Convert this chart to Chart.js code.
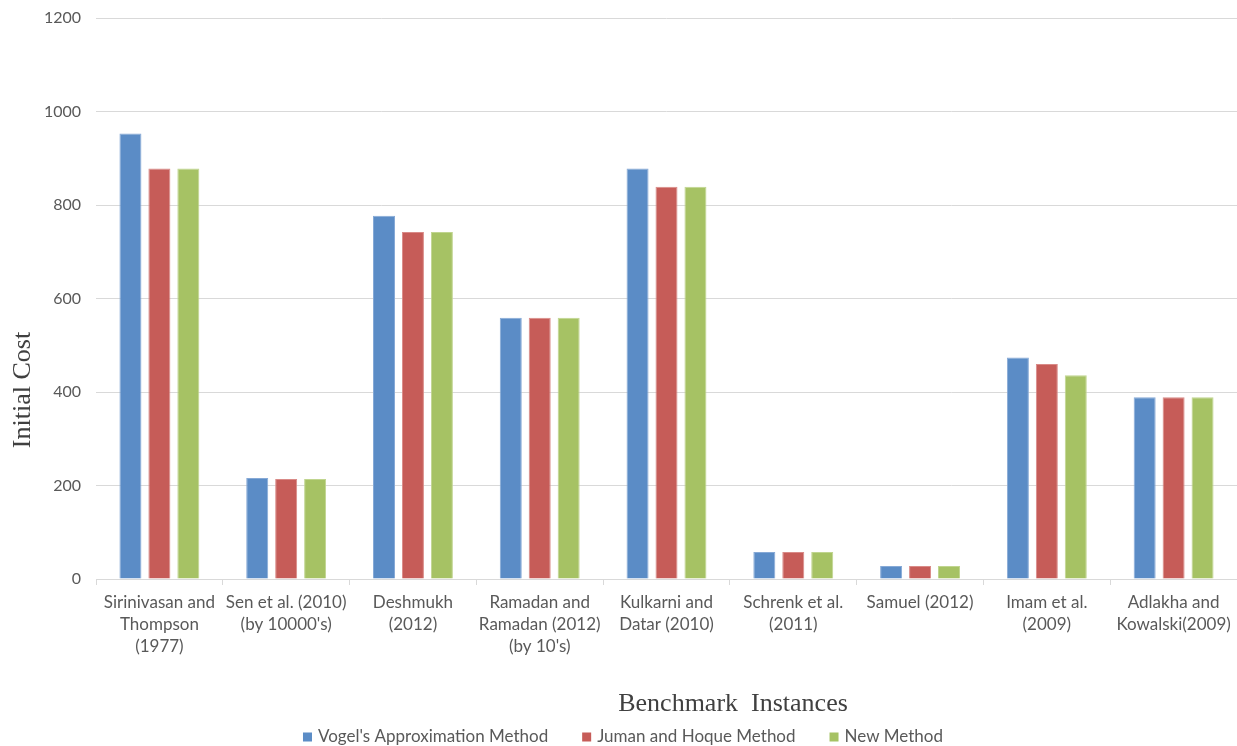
<!DOCTYPE html>
<html>
<head>
<meta charset="utf-8">
<title>Initial Cost</title>
<script src="https://cdn.jsdelivr.net/npm/chart.js@4.4.1/dist/chart.umd.min.js"></script>
<style>
  html, body { margin: 0; padding: 0; background: #ffffff; }
  #wrap { width: 1237px; height: 746px; }
</style>
</head>
<body>
<div id="wrap"><canvas id="chartCusto" width="1237" height="746"></canvas></div>
<script>
// Instâncias de teste (rótulos em várias linhas)
const categorias = [
    ['Sirinivasan and', 'Thompson', '(1977)'],
    ['Sen et al. (2010)', "(by 10000's)"],
    ['Deshmukh', '(2012)'],
    ['Ramadan and', 'Ramadan (2012)', "(by 10's)"],
    ['Kulkarni and', 'Datar (2010)'],
    ['Schrenk et al.', '(2011)'],
    ['Samuel (2012)'],
    ['Imam et al.', '(2009)'],
    ['Adlakha and', 'Kowalski(2009)']
];

const custoVogel = [953, 216, 777, 559, 878, 58, 28, 474, 389];
const custoJuman = [878, 214, 742, 559, 839, 58, 28, 460, 389];
const custoNovo  = [878, 214, 742, 559, 839, 58, 28, 436, 389];

const nomesSeries = ["Vogel's Approximation Method", 'Juman and Hoque Method', 'New Method'];
const ticksY = [0, 200, 400, 600, 800, 1000, 1200];

const fonteTexto = 'Lato, "Open Sans", sans-serif';
const fonteTitulo = '"Liberation Serif", "Times New Roman", serif';
const corTexto = '#595959';
const corGrade = '#d9d9d9';

// Títulos dos eixos e legenda desenhados à mão
const titulosELegenda = {
    id: 'titulosELegenda',
    afterDraw(chart) {
        const ctx = chart.ctx;
        ctx.save();
        ctx.fillStyle = '#404040';
        ctx.font = '26px ' + fonteTitulo;
        ctx.textAlign = 'center';
        ctx.textBaseline = 'middle';
        ctx.fillText('Benchmark  Instances', 733, 704);

        ctx.save();
        ctx.translate(23, 390);
        ctx.rotate(-Math.PI / 2);
        ctx.fillText('Initial Cost', 0, 0);
        ctx.restore();

        // legenda
        ctx.font = '17px ' + fonteTexto;
        ctx.textAlign = 'left';
        const caixa = 9, espacoTexto = 6, espacoItens = 34;
        const itens = chart.data.datasets.map(ds => ({
            label: ds.label,
            cor: ds.backgroundColor,
            largura: caixa + espacoTexto + ctx.measureText(ds.label).width
        }));
        const total = itens.reduce((s, it) => s + it.largura, 0) + espacoItens * (itens.length - 1);
        let x = 623 - total / 2;
        const y = 737;
        itens.forEach(it => {
            ctx.fillStyle = it.cor;
            ctx.fillRect(x, y - caixa / 2, caixa, caixa);
            ctx.fillStyle = corTexto;
            ctx.fillText(it.label, x + caixa + espacoTexto, y);
            x += it.largura + espacoItens;
        });
        ctx.restore();
    }
};

window.addEventListener('DOMContentLoaded', function() {
    const ctx = document.getElementById('chartCusto').getContext('2d');
    new Chart(ctx, {
        type: 'bar',
        data: {
            labels: categorias,
            datasets: [
                {
                    label: nomesSeries[0],
                    data: custoVogel,
                    backgroundColor: '#5b8cc6',
                    borderColor: '#86a9d6',
                    borderWidth: 1
                },
                {
                    label: nomesSeries[1],
                    data: custoJuman,
                    backgroundColor: '#c65c58',
                    borderColor: '#d98a87',
                    borderWidth: 1
                },
                {
                    label: nomesSeries[2],
                    data: custoNovo,
                    backgroundColor: '#a6c264',
                    borderColor: '#c0d58f',
                    borderWidth: 1
                }
            ]
        },
        options: {
            responsive: false,
            animation: false,
            categoryPercentage: 0.685,
            barPercentage: 0.76,
            layout: { padding: { top: 18, right: 0, bottom: 0, left: 0 } },
            plugins: {
                legend: { display: false },
                tooltip: { enabled: false }
            },
            scales: {
                x: {
                    afterFit: function(scale) { scale.height = 167; },
                    grid: {
                        offset: true,
                        drawOnChartArea: false,
                        drawTicks: true,
                        tickLength: 6,
                        color: corGrade
                    },
                    border: { display: true, color: corGrade },
                    ticks: {
                        autoSkip: false,
                        maxRotation: 0,
                        minRotation: 0,
                        padding: 6,
                        color: corTexto,
                        font: { family: fonteTexto, size: 17, lineHeight: 1.3 }
                    }
                },
                y: {
                    min: 0,
                    max: 1200,
                    afterFit: function(scale) {
                        scale.width = 96;
                        scale.paddingTop = 0;
                        scale.paddingBottom = 0;
                    },
                    afterBuildTicks: function(scale) {
                        scale.ticks = ticksY.map(v => ({ value: v }));
                    },
                    grid: { color: corGrade, drawTicks: false },
                    border: { display: false },
                    ticks: {
                        padding: 15,
                        color: corTexto,
                        font: { family: fonteTexto, size: 16 },
                        callback: v => String(v)
                    }
                }
            }
        },
        plugins: [titulosELegenda]
    });
});
</script>
</body>
</html>
